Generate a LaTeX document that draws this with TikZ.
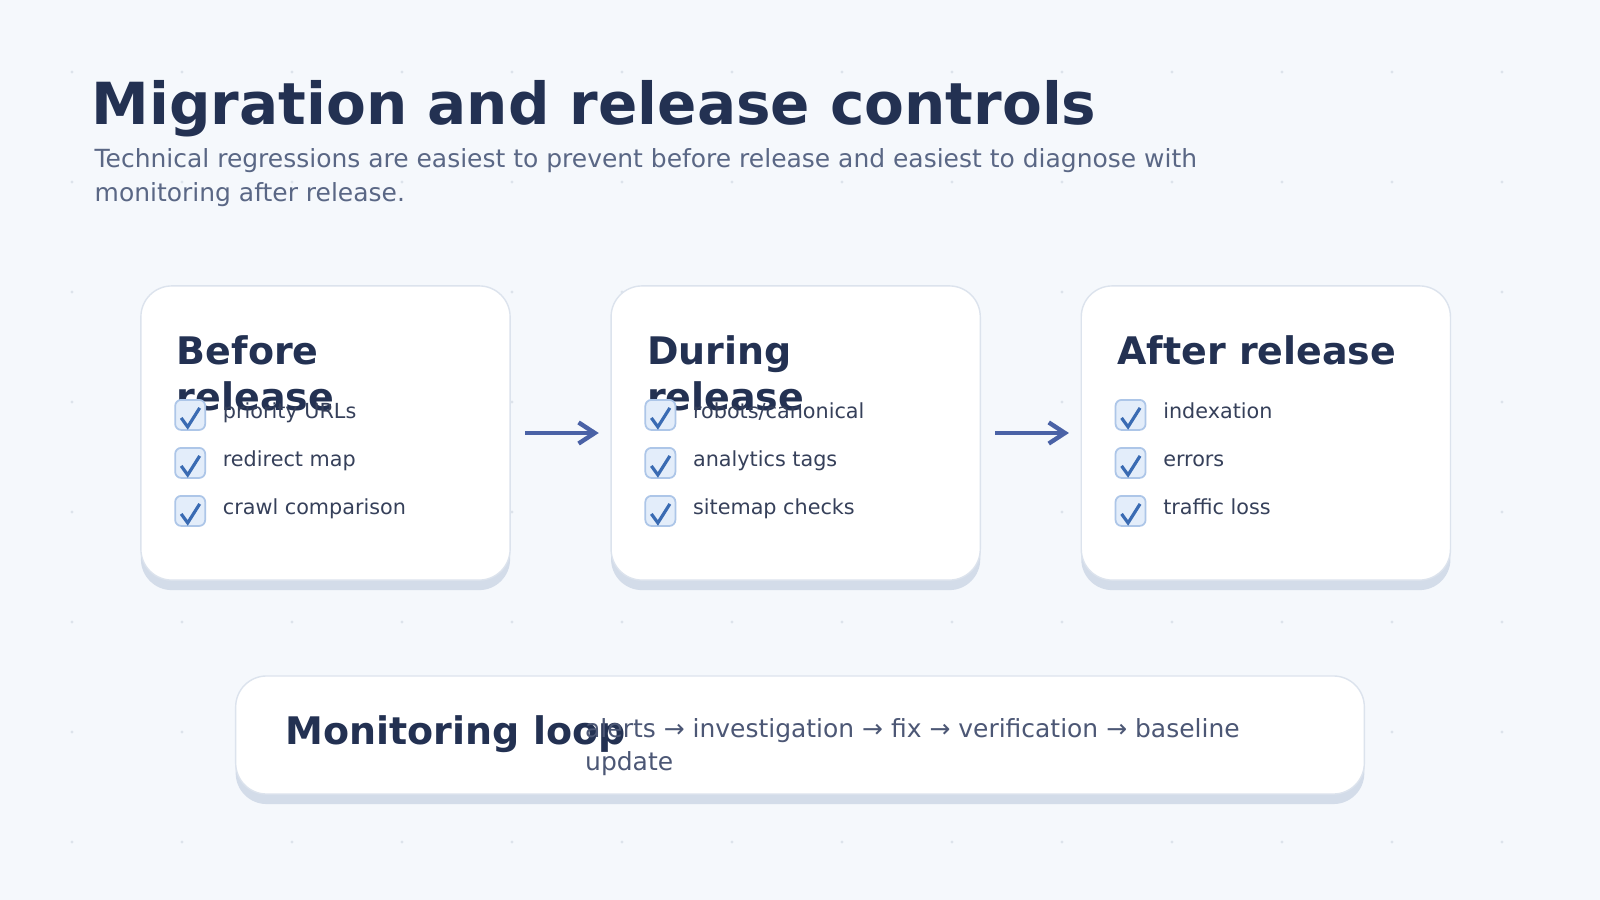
\documentclass[tikz,border=0pt]{standalone}
\usepackage{fontspec}
\setmainfont{DejaVu Sans}
\usetikzlibrary{arrows.meta,positioning,shadows}

\definecolor{bgc}{HTML}{F5F8FC}
\definecolor{dotc}{HTML}{DDE3EB}
\definecolor{titlec}{HTML}{233152}
\definecolor{subc}{HTML}{5A6785}
\definecolor{itemc}{HTML}{36405A}
\definecolor{bodyc}{HTML}{4C5775}
\definecolor{cardline}{HTML}{DCE3ED}
\definecolor{cardshadow}{HTML}{D3DCE9}
\definecolor{boxfill}{HTML}{E3EDFA}
\definecolor{boxline}{HTML}{ADC6E8}
\definecolor{tickc}{HTML}{3A6BB3}
\definecolor{arrowc}{HTML}{4A62A6}

\begin{document}
\begin{tikzpicture}[
      x=0.01cm, y=-0.01cm,
      node distance=0.995cm,
      card/.style={draw=cardline, fill=white, rounded corners=8.8pt,
        line width=0.4pt, minimum width=3.69cm, minimum height=2.94cm,
        general shadow={fill=cardshadow, shadow yshift=-2.85pt}},
      title/.style={inner sep=0pt, text=titlec,
        font=\fontsize{16.5pt}{20pt}\selectfont\bfseries},
      subtitle/.style={inner sep=0pt, text=subc, align=left,
        font=\fontsize{7.1pt}{9.39pt}\selectfont},
      cardtitle/.style={inner sep=0pt, text=titlec, align=left,
        font=\fontsize{10.8pt}{13.1pt}\selectfont\bfseries},
      item/.style={inner sep=0pt, text=itemc,
        font=\fontsize{5.9pt}{7pt}\selectfont},
      checkbox/.style={draw=boxline, fill=boxfill, rounded corners=1.7pt,
        line width=0.5pt, minimum size=0.3cm, inner sep=0pt},
      tick/.style={draw=tickc, line width=0.9pt},
      loopbody/.style={inner sep=0pt, text=bodyc, align=left,
        font=\fontsize{7.1pt}{9.39pt}\selectfont},
      arrow/.style={-{Straight Barb[length=4.6pt, width=6pt]},
        line width=1.25pt, draw=arrowc, shorten <=4.1pt, shorten >=3.3pt}
    ]
    % background and dot grid
    \fill[bgc] (0,0) rectangle (1600,900);
    \useasboundingbox (0,0) rectangle (1600,900);
    \foreach \x in {72,182,...,1502}
      \foreach \y in {72,182,...,842}
        \fill[dotc] (\x,\y) circle (1.6);

    \node[title, anchor=base west] (title) at (91,124.5) {Migration and release controls};
    \node[subtitle, anchor=base west] (subtitle) at (94,201) {Technical regressions are easiest to prevent before release and easiest to diagnose with\\monitoring after release.};

    % the three stage cards
    \node[card] (before) at (325.5,433) {};
    \node[card, right=of before] (during) {};
    \node[card, right=of during] (after) {};

    \foreach \card/\ttl/\nl/\items in {
        before/{Before\\release}/46/{priority URLs,redirect map,crawl comparison},
        during/{During\\release}/46/{robots/canonical,analytics tags,sitemap checks},
        after/{After release}/0/{indexation,errors,traffic loss}} {
      \node[cardtitle, anchor=base west] (\card-title)
        at ([shift={(36,{79+\nl})}]\card.north west) {\ttl};
      \foreach \txt [count=\i from 0] in \items {
        \node[checkbox] (\card-box\i) at ([shift={(50,{129.7+48*\i})}]\card.north west) {};
        \draw[tick] ([shift={(-9,3)}]\card-box\i.center)
          -- ([shift={(-2.5,12)}]\card-box\i.center)
          -- ([shift={(9.5,-7)}]\card-box\i.center);
        \node[item, anchor=base west] (\card-item\i)
          at ([shift={(82,{133+48*\i})}]\card.north west) {\txt};
      }
    }

    \draw[arrow] (before) -- (during);
    \draw[arrow] (during) -- (after);

    % monitoring loop
    \node[card, minimum width=11.28cm, minimum height=1.18cm] (loop) at (800,735) {};
    \node[cardtitle, anchor=base west] (looptitle)
      at ([shift={(50,69)}]loop.north west) {Monitoring loop};
    \node[loopbody, anchor=base west] (loopbody)
      at ([shift={(349.5,95)}]loop.north west) {alerts → investigation → fix → verification → baseline\\update};
  \end{tikzpicture}
\end{document}
